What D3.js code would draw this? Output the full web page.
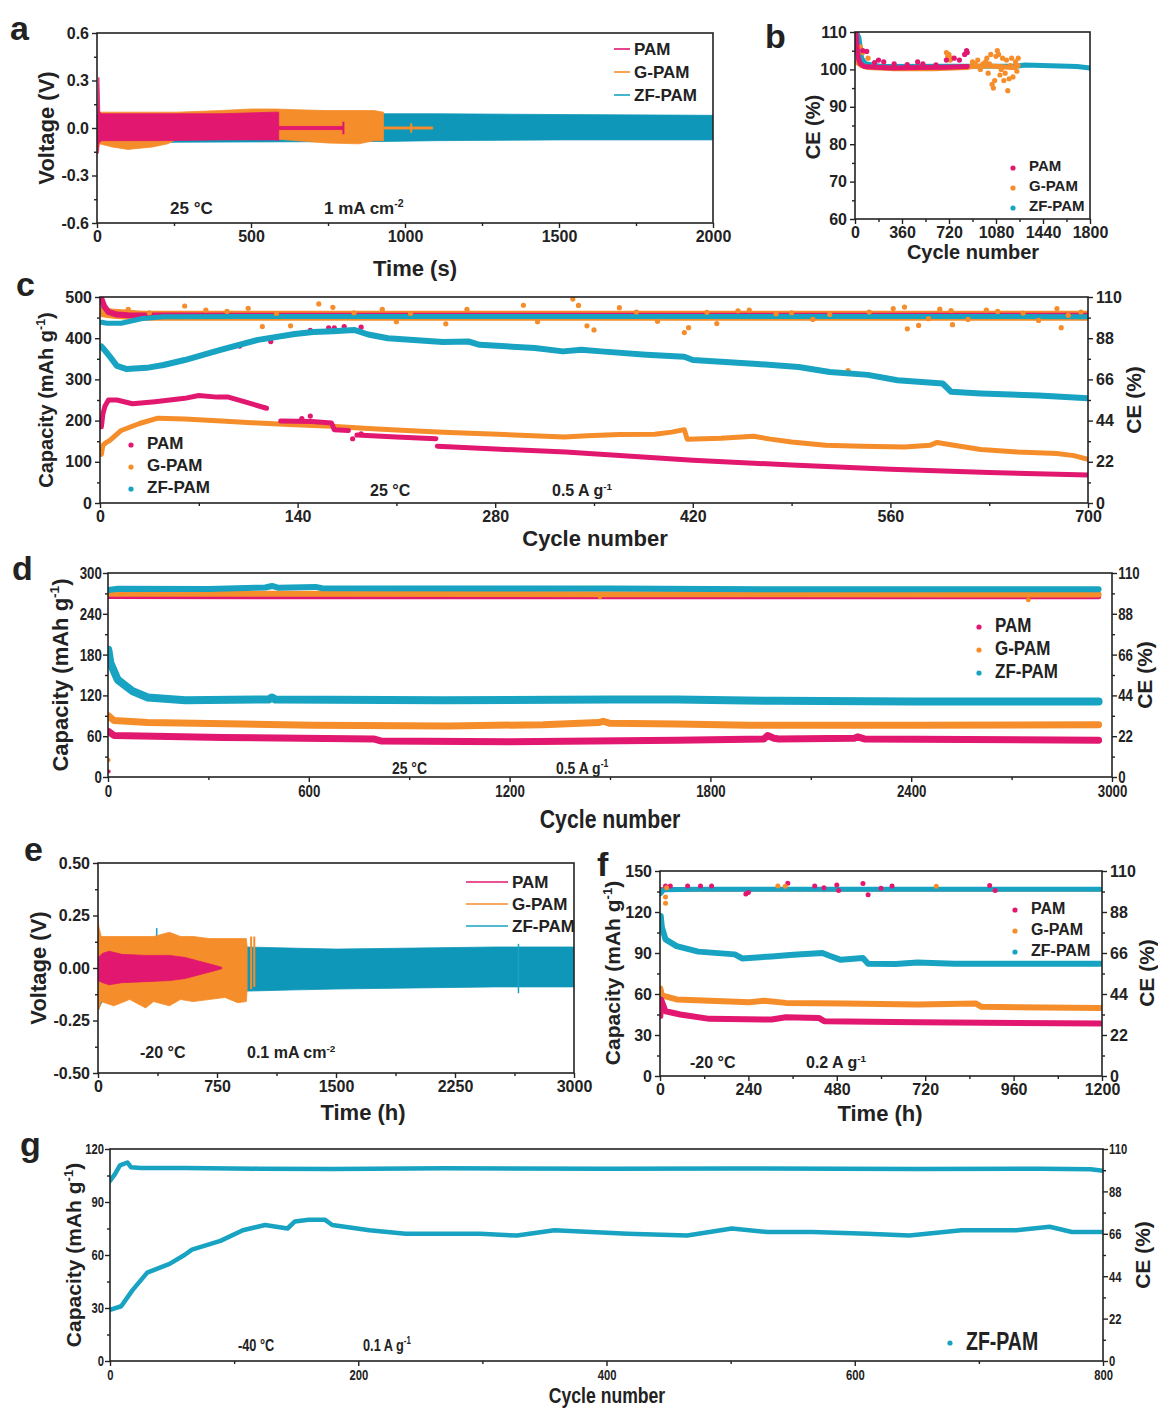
<!DOCTYPE html>
<html>
<head>
<meta charset="utf-8">
<script src="https://cdn.jsdelivr.net/npm/d3@7"></script>
<style>
  body { margin: 0; background: #fff; }
  text { font-family: "Liberation Sans", Arial, sans-serif; font-weight: bold; fill: #222; }
</style>
</head>
<body>
<svg id="fig" width="1158" height="1410"></svg>
<script>
// series names + colours
const names = ["PAM", "G-PAM", "ZF-PAM"];
const cols = ["#e2176f", "#f58d2b", "#17a3c1"];
const colZFv = "#0f97b9";

// ---- a : voltage envelopes [time s, upper V, lower V]
const zfA = [[0,0.08,-0.1],[10,0.09,-0.09],[230,0.09,-0.09],[500,0.09,-0.088],[930,0.09,-0.085],[1100,0.09,-0.08],[1500,0.085,-0.075],[2000,0.08,-0.075]];
const gA = [[0,0.0,-0.16],[4,0.09,-0.16],[8,0.1,-0.1],[50,0.1,-0.12],[100,0.1,-0.135],[180,0.1,-0.12],[230,0.1,-0.1],[260,0.1,-0.07],[400,0.11,-0.065],[500,0.12,-0.065],[580,0.12,-0.07],[650,0.115,-0.08],[750,0.11,-0.095],[850,0.11,-0.1],[900,0.11,-0.08],[930,0.1,-0.08]];
const gTailA = [[930,0.007,-0.007],[1090,0.007,-0.007]];
const gSpikeA = [[1020,0.03,-0.03]];
const pamA = [[0,0.0,-0.05],[3,0.1,-0.16],[6,0.32,-0.1],[9,0.1,-0.09],[15,0.09,-0.08],[200,0.09,-0.08],[400,0.09,-0.075],[580,0.1,-0.075],[590,0.1,-0.08]];
const pamTailA = [[590,0.01,-0.01],[800,0.01,-0.01]];
const pamSpikeA = [[800,0.04,-0.04]];

// ---- b : CE (%) vs cycle
const pamB = [[8,110],[15,106],[25,103],[40,101.5],[70,100.8],[150,100.6],[300,100.4],[500,100.5],[700,100.6],[860,100.8]];
const pamDotsB = [[60,105],[90,104.8],[150,101.8],[180,102.5],[220,102],[300,101.5],[400,101.3],[480,102],[520,101.5],[620,101.2],[700,102.5],[760,103],[800,102.5],[840,104],[855,105],[860,104.5]];
const gB = [[10,102],[50,101],[100,100.5],[300,100.2],[600,100.2],[860,100.5],[900,100.8],[1000,101],[1100,100.8],[1200,100.5],[1250,101]];
const gDotsB = [[40,106],[60,104.5],[100,103],[700,104.5],[710,103.5],[720,104],[730,102.5],[740,103],[900,102],[920,101.5],[940,102.5],[960,100],[980,101.5],[1000,102],[1010,103],[1020,99],[1030,101.5],[1040,104],[1050,96],[1060,95],[1070,97],[1080,103.5],[1090,105],[1100,104],[1110,98.5],[1120,100],[1130,103],[1140,97],[1150,99],[1160,102.5],[1170,94.3],[1180,97.5],[1190,101],[1200,103],[1210,98],[1220,100.5],[1230,102],[1240,99.5],[1250,103]];
const zfB = [[10,110],[30,108.5],[50,103],[80,101.5],[200,100.8],[1250,100.9],[1300,101.2],[1500,101],[1700,100.8],[1800,100.4]];

// ---- c : capacity (mAh/g) and CE (%) vs cycle
const pamCapC1 = [[1,185],[2,215],[3.5,235],[6,250],[12,250],[23,241],[39,246],[60,254],[70,261],[83,257],[91,257],[107,241],[118,230]];
const pamCapC2 = [[128,199],[150,198],[164,194],[166,178],[176,176]];
const pamCapC3 = [[182,165],[210,160],[238,156]];
const pamCapC4 = [[239,138],[280,131],[330,124],[420,104],[490,92],[560,82],[630,74],[700,68]];
const pamCapDotsC = [[143,205],[149,211],[179,156],[185,168]];
const gCapC = [[1,118],[2,140],[4,146],[7,152],[15,176],[28,193],[41,206],[60,204],[86,199],[112,194],[138,190],[164,186],[190,181],[217,176],[243,172],[282,167],[329,160],[345,163],[368,166],[393,167],[405,172],[414,178],[416,155],[440,157],[463,162],[475,155],[490,148],[514,140],[540,138],[570,136],[588,140],[593,147],[605,140],[624,130],[650,124],[678,120],[690,115],[700,106]];
const zfCapC = [[1,380],[3,372],[7,355],[12,333],[19,325],[33,328],[45,335],[60,347],[86,372],[112,396],[138,410],[151,415],[165,417],[180,420],[190,409],[204,400],[243,391],[261,392],[269,384],[308,376],[328,368],[341,372],[355,368],[387,360],[414,355],[420,347],[463,338],[495,330],[517,318],[544,311],[565,298],[597,290],[603,270],[624,266],[665,261],[700,254]];
const pamCeC = [[1,109],[3,105],[6,102],[12,100.6],[20,100.2],[100,100],[300,100],[500,100],[700,100]];
const pamCeDotsC = [[99,83.8],[121,86.2],[149,92.2],[162,93.5],[166,93.5],[173,94.2],[185,93.9]];
const gCeC = [[1,102],[10,101],[30,100],[700,100]];
const gCeDotsC = [[20,103.4],[35,101.6],[60,105.2],[75,103],[90,102.3],[105,104],[115,94.2],[125,101.2],[135,94.6],[155,106.3],[165,104.5],[180,101.6],[200,103.4],[210,96.8],[220,101.2],[245,95.7],[260,103.4],[300,105.6],[310,96.8],[335,108.9],[339,105.5],[345,94.6],[350,92.4],[368,104.3],[380,102],[395,97],[414,91],[417,93.6],[430,101.8],[437,95.8],[452,102.6],[460,103],[479,101],[490,101.6],[505,98],[517,100.7],[530,70.7],[545,102],[562,103.8],[570,104.6],[572,93],[580,94.8],[587,98.4],[595,103.5],[603,102.8],[604,95.2],[615,98],[628,103],[636,102.3],[654,101.4],[665,97.5],[678,103.8],[681,93.6],[686,100.2],[695,102]];
const zfCeC = [[1,96.5],[5,96],[15,96],[30,98.5],[45,99.5],[100,99.6],[300,99.6],[500,99.6],[700,99.5]];

// ---- d : capacity and CE vs cycle (3000)
const zfCapD = [[1,187],[7,168],[29,143],[74,126],[119,117],[231,113],[480,114],[490,117],[500,114],[1000,113],[1500,114],[1700,114],[2000,112],[2400,111],[2960,111]];
const gCapD = [[1,90],[18,83],[119,80],[400,78],[613,76],[1017,75],[1300,77],[1466,80],[1480,82],[1500,79],[1700,78],[1915,76],[2400,76],[2960,77]];
const pamCapD = [[1,67],[18,61],[343,58],[793,56],[815,53],[1200,52],[1700,54],[1960,56],[1971,61],[1990,57],[2005,56],[2230,57],[2240,59],[2260,56],[2960,54]];
const capStartDotsD = [[2,8,0],[2,25,1]];
const zfCeD = [[1,100.8],[30,101.5],[300,101.4],[470,102.2],[490,103],[510,102],[620,102.5],[640,101.8],[1500,101.6],[2000,101.2],[2960,101.2]];
const gCeD = [[1,98.8],[500,98.8],[1500,98.6],[2960,98.4]];
const gCeDotsD = [[1470,97.2],[2750,95.5]];
const pamCeD = [[1,97.3],[1000,97.2],[2960,97.2]];

// ---- e : voltage envelopes [time h, upper V, lower V]
const zfE = [[0,0.05,-0.2],[20,0.1,-0.17],[50,0.1,-0.13],[100,0.1,-0.12],[200,0.1,-0.11],[940,0.1,-0.11],[1200,0.095,-0.105],[1500,0.09,-0.1],[2000,0.095,-0.095],[2500,0.1,-0.09],[3000,0.1,-0.09]];
const zfSpikesE = [[370,0.19,0.1],[2650,0.115,-0.12]];
const gE = [[0,0.25,-0.2],[5,0.2,-0.2],[20,0.15,-0.16],[60,0.15,-0.17],[100,0.15,-0.18],[200,0.15,-0.15],[300,0.15,-0.19],[350,0.15,-0.16],[450,0.17,-0.18],[520,0.15,-0.15],[600,0.15,-0.16],[700,0.14,-0.15],[800,0.14,-0.14],[880,0.14,-0.165],[935,0.14,-0.16],[940,0.1,-0.1]];
const gSpikesE = [[965,0.15,-0.1],[985,0.15,-0.09]];
const pamE = [[0,0.05,-0.06],[30,0.07,-0.07],[70,0.08,-0.08],[150,0.065,-0.07],[300,0.06,-0.065],[450,0.06,-0.06],[550,0.05,-0.05],[650,0.03,-0.03],[740,0.012,-0.012],[780,0.003,-0.003]];

// ---- f : capacity and CE vs time (h)
const zfCapF = [[2,117],[5,109],[15,100],[45,95],[104,91],[203,89],[223,86],[303,87.5],[362,88.7],[441,90],[460,88],[491,85],[551,86.3],[565,82.2],[640,82],[699,83.1],[799,82.2],[898,82.2],[1195,82.2]];
const gCapF = [[1,64],[5,59],[45,56],[243,54],[283,55],[342,53.5],[501,53],[699,52.3],[858,53],[873,50.6],[1195,49.8]];
const pamCapF = [[1,44],[3,56],[15,47.4],[55,45],[134,41.8],[303,41.3],[342,43],[431,42.5],[446,40.1],[699,39.4],[1195,38.4]];
const pamCeF = [[2,100.2],[1195,100.2]];
const gCeF = [[2,100],[1195,100.1]];
const zfCeF = [[2,98],[10,100],[100,100.2],[1195,100.2]];
const pamCeDotsF = [[15,102],[28,102],[75,102],[110,102],[140,102],[233,97.6],[240,98.5],[347,103.4],[420,102],[445,101],[480,102.5],[485,99.5],[551,103.3],[565,97.2],[600,100.8],[630,102],[895,102.2],[910,99.5]];
const gCeDotsF = [[15,92.7],[15,96],[18,101],[320,102],[340,101.8],[750,101.8]];

// ---- g : ZF-PAM only, capacity and CE vs cycle
const zfCapG = [[0,29],[9,31],[18,40],[30,50],[48,55],[60,60],[66,63],[89,68],[107,74],[125,77],[143,75],[149,79],[160,80],[173,80],[179,77],[209,74],[238,72],[298,72],[328,71],[358,74],[417,72],[465,71],[501,75],[530,73],[566,73],[610,72],[644,71],[686,74],[730,74],[757,76],[775,73],[799,73]];
const zfCeG = [[0,93.5],[4,97],[8,101.5],[14,103],[17,100.5],[25,100.2],[60,100.2],[120,99.8],[180,99.6],[270,100],[400,99.7],[500,99.9],[650,99.6],[750,99.8],[790,99.5],[800,98.7]];

const svg = d3.select("#fig");
svg.append("rect").attr("width", 1158).attr("height", 1410).attr("fill", "#fff");
const FONT = '"Liberation Sans", Arial, sans-serif';

let clipN = 0;
function makePanel(o) {
  const x = d3.scaleLinear().domain(o.xd).range([o.l, o.r]);
  const y = d3.scaleLinear().domain(o.yd).range([o.b, o.t]);
  const y2 = o.y2d ? d3.scaleLinear().domain(o.y2d).range([o.b, o.t]) : null;
  const id = "clip" + (clipN++);
  svg.append("clipPath").attr("id", id).append("rect")
    .attr("x", o.l).attr("y", o.t).attr("width", o.r - o.l).attr("height", o.b - o.t);
  const plot = svg.append("g").attr("clip-path", `url(#${id})`);
  return { o, x, y, y2, plot };
}

function rich(t, parts, fs) {
  parts.forEach(([s, sup], i) => {
    const ts = t.append("tspan").text(s);
    if (sup) ts.attr("dy", -fs * 0.4).style("font-size", fs * 0.62 + "px");
    else if (i > 0 && parts[i - 1][1]) ts.attr("dy", fs * 0.4);
  });
  return t;
}

// opts: anchor, rot (rotate -90), sx (horizontal squeeze, for the narrow lettering)
function text(x, y, parts, fs, opts) {
  opts = opts || {};
  const sx = opts.sx || 1;
  const t = svg.append("text").attr("x", 0).attr("y", 0)
    .style("font-size", fs + "px")
    .attr("text-anchor", opts.anchor || "start")
    .attr("transform", `translate(${x},${y})` + (opts.rot ? " rotate(-90)" : "") + (sx !== 1 ? ` scale(${sx},1)` : ""));
  if (opts.rot) t.attr("dy", "0.35em");
  return rich(t, typeof parts === "string" ? [[parts, 0]] : parts, fs);
}

function finishPanel(p) {
  const o = p.o;
  const g = svg.append("g");
  const mids = v => v.slice(1).map((d, i) => (d + v[i]) / 2);
  const xf = o.xf || (d => d);
  const yf = o.yf || (d => d);
  g.append("g").attr("transform", `translate(0,${o.b})`)
    .call(d3.axisBottom(p.x).tickValues(o.xt).tickSize(5).tickPadding(3).tickFormat(xf));
  g.append("g").attr("transform", `translate(0,${o.b})`)
    .call(d3.axisBottom(p.x).tickValues(mids(o.xt)).tickSize(3).tickFormat(""));
  g.append("g").attr("transform", `translate(${o.l},0)`)
    .call(d3.axisLeft(p.y).tickValues(o.yt).tickSize(5).tickPadding(3).tickFormat(yf));
  g.append("g").attr("transform", `translate(${o.l},0)`)
    .call(d3.axisLeft(p.y).tickValues(mids(o.yt)).tickSize(3).tickFormat(""));
  if (p.y2) {
    g.append("g").attr("transform", `translate(${o.r},0)`)
      .call(d3.axisRight(p.y2).tickValues(o.y2t).tickSize(5).tickPadding(3));
    g.append("g").attr("transform", `translate(${o.r},0)`)
      .call(d3.axisRight(p.y2).tickValues(mids(o.y2t)).tickSize(3).tickFormat(""));
  }
  g.selectAll(".domain").remove();
  g.selectAll(".tick line").attr("stroke", "#222").attr("stroke-width", 1.4);
  const tt = g.selectAll(".tick text").attr("fill", "#222")
    .style("font-size", (o.fs || 16) + "px").style("font-weight", "bold")
    .style("font-family", FONT);
  if (o.sx) tt.attr("transform", `scale(${o.sx},1)`);
  g.append("rect").attr("x", o.l).attr("y", o.t).attr("width", o.r - o.l).attr("height", o.b - o.t)
    .attr("fill", "none").attr("stroke", "#222").attr("stroke-width", 1.6);
}

function band(p, data, color) {
  p.plot.append("path").datum(data)
    .attr("d", d3.area().x(d => p.x(d[0])).y0(d => p.y(d[2])).y1(d => p.y(d[1])))
    .attr("fill", color).attr("stroke", color).attr("stroke-width", 0.8);
}
function spikes(p, data, color, w) {
  p.plot.selectAll(null).data(data).join("line")
    .attr("x1", d => p.x(d[0])).attr("x2", d => p.x(d[0]))
    .attr("y1", d => p.y(d[1])).attr("y2", d => p.y(d[2]))
    .attr("stroke", color).attr("stroke-width", w || 1.5);
}
function trace(p, data, color, w, ys) {
  const y = ys || p.y;
  p.plot.append("path").datum(data)
    .attr("d", d3.line().x(d => p.x(d[0])).y(d => y(d[1])))
    .attr("fill", "none").attr("stroke", color).attr("stroke-width", w)
    .attr("stroke-linecap", "round").attr("stroke-linejoin", "round");
}
function dots(p, data, color, r, ys) {
  const y = ys || p.y;
  p.plot.selectAll(null).data(data).join("circle")
    .attr("cx", d => p.x(d[0])).attr("cy", d => y(d[1])).attr("r", r)
    .attr("fill", color);
}
function legend(x, y0, dy, kind, fs, idx, len, sx) {
  (idx || [0, 1, 2]).forEach((k, i) => {
    const y = y0 + i * dy;
    if (kind === "line") {
      svg.append("line").attr("x1", x - len).attr("x2", x).attr("y1", y).attr("y2", y)
        .attr("stroke", cols[k]).attr("stroke-width", 1.6);
    } else {
      svg.append("circle").attr("cx", x - 12).attr("cy", y + 2).attr("r", 2.6).attr("fill", cols[k]);
    }
    text(x + 4, y, names[k], fs, { sx }).attr("dy", "0.35em");
  });
}

// ================= a
const pa = makePanel({ l: 97, r: 713, t: 33, b: 223, xd: [0, 2000], yd: [-0.6, 0.6],
  xt: [0, 500, 1000, 1500, 2000], yt: [-0.6, -0.3, 0, 0.3, 0.6], yf: d => d.toFixed(1) });
band(pa, zfA, colZFv);
band(pa, gA, cols[1]);
band(pa, gTailA, cols[1]);
spikes(pa, gSpikeA, cols[1], 2);
band(pa, pamA, cols[0]);
band(pa, pamTailA, cols[0]);
spikes(pa, pamSpikeA, cols[0], 2);
finishPanel(pa);
text(10, 40, "a", 34);
text(415, 276, "Time (s)", 22, { anchor: "middle" });
text(46, 128, "Voltage (V)", 22, { anchor: "middle", rot: true });
legend(630, 49, 23, "line", 17, null, 16);
text(170, 214, "25 °C", 17);
text(324, 214, [["1 mA cm", 0], ["-2", 1]], 17);

// ================= b
const pb = makePanel({ l: 855, r: 1090, t: 32, b: 219, xd: [0, 1800], yd: [60, 110],
  xt: [0, 360, 720, 1080, 1440, 1800], yt: [60, 70, 80, 90, 100, 110] });
trace(pb, zfB, cols[2], 5);
trace(pb, gB, cols[1], 5);
dots(pb, gDotsB, cols[1], 2.6);
trace(pb, pamB, cols[0], 5);
dots(pb, pamDotsB, cols[0], 2.6);
finishPanel(pb);
text(765, 48, "b", 34);
text(973, 259, "Cycle number", 20, { anchor: "middle" });
text(813, 127, "CE (%)", 20, { anchor: "middle", rot: true });
legend(1025, 166, 20, "dot", 15);

// ================= c
const pc = makePanel({ l: 100, r: 1088, t: 297, b: 503, xd: [0, 700], yd: [0, 500], y2d: [0, 110],
  xt: [0, 140, 280, 420, 560, 700], yt: [0, 100, 200, 300, 400, 500], y2t: [0, 22, 44, 66, 88, 110] });
trace(pc, gCeC, cols[1], 10, pc.y2);
trace(pc, pamCeC, cols[0], 6, pc.y2);
trace(pc, zfCeC, cols[2], 5, pc.y2);
dots(pc, gCeDotsC, cols[1], 2.6, pc.y2);
dots(pc, pamCeDotsC, cols[0], 2.6, pc.y2);
trace(pc, zfCapC, cols[2], 6);
trace(pc, gCapC, cols[1], 5);
[pamCapC1, pamCapC2, pamCapC3, pamCapC4].forEach(s => trace(pc, s, cols[0], 5));
dots(pc, pamCapDotsC, cols[0], 2.6);
finishPanel(pc);
text(16, 296, "c", 34);
text(595, 546, "Cycle number", 22, { anchor: "middle" });
text(46, 400, [["Capacity (mAh g", 0], ["-1", 1], [")", 0]], 20, { anchor: "middle", rot: true });
text(1134, 400, "CE (%)", 21, { anchor: "middle", rot: true });
legend(143, 443, 22, "dot", 17);
text(370, 496, "25 °C", 16);
text(552, 496, [["0.5 A g", 0], ["-1", 1]], 16);

// ================= d
const pd = makePanel({ l: 108, r: 1112, t: 573, b: 777, xd: [0, 3000], yd: [0, 300], y2d: [0, 110],
  xt: [0, 600, 1200, 1800, 2400, 3000], yt: [0, 60, 120, 180, 240, 300], y2t: [0, 22, 44, 66, 88, 110],
  fs: 17, sx: 0.78 });
trace(pd, pamCeD, cols[0], 5, pd.y2);
trace(pd, gCeD, cols[1], 6, pd.y2);
trace(pd, zfCeD, cols[2], 6, pd.y2);
dots(pd, gCeDotsD, cols[1], 2.4, pd.y2);
trace(pd, zfCapD, cols[2], 8);
trace(pd, gCapD, cols[1], 7);
trace(pd, pamCapD, cols[0], 7);
dots(pd, capStartDotsD, d => cols[d[2]], 2);
finishPanel(pd);
text(12, 580, "d", 34);
text(610, 828, "Cycle number", 25, { anchor: "middle", sx: 0.85 });
text(60, 675, [["Capacity (mAh g", 0], ["-1", 1], [")", 0]], 22, { anchor: "middle", rot: true });
text(1145, 675, "CE (%)", 21, { anchor: "middle", rot: true });
legend(991, 625, 23, "dot", 20, null, 0, 0.85);
text(392, 774, "25 °C", 17, { sx: 0.82 });
text(556, 774, [["0.5 A g", 0], ["-1", 1]], 17, { sx: 0.82 });

// ================= e
const pe = makePanel({ l: 98, r: 574, t: 863, b: 1073, xd: [0, 3000], yd: [-0.5, 0.5],
  xt: [0, 750, 1500, 2250, 3000], yt: [-0.5, -0.25, 0, 0.25, 0.5], yf: d => d.toFixed(2) });
band(pe, zfE, colZFv);
spikes(pe, zfSpikesE, cols[2], 1.5);
band(pe, gE, cols[1]);
spikes(pe, gSpikesE, cols[1], 2);
band(pe, pamE, cols[0]);
finishPanel(pe);
text(24, 861, "e", 34);
text(363, 1120, "Time (h)", 22, { anchor: "middle" });
text(38, 968, "Voltage (V)", 22, { anchor: "middle", rot: true });
legend(508, 882, 22, "line", 17, null, 42);
text(140, 1058, "-20 °C", 16);
text(247, 1058, [["0.1 mA cm", 0], ["-2", 1]], 16);

// ================= f
const pf = makePanel({ l: 660, r: 1102, t: 871, b: 1076, xd: [0, 1200], yd: [0, 150], y2d: [0, 110],
  xt: [0, 240, 480, 720, 960, 1200], yt: [0, 30, 60, 90, 120, 150], y2t: [0, 22, 44, 66, 88, 110] });
trace(pf, gCeF, cols[1], 4, pf.y2);
trace(pf, pamCeF, cols[0], 4, pf.y2);
trace(pf, zfCeF, cols[2], 5, pf.y2);
dots(pf, pamCeDotsF, cols[0], 2.5, pf.y2);
dots(pf, gCeDotsF, cols[1], 2.5, pf.y2);
trace(pf, zfCapF, cols[2], 6);
trace(pf, gCapF, cols[1], 6);
trace(pf, pamCapF, cols[0], 6);
finishPanel(pf);
text(597, 876, "f", 34);
text(880, 1121, "Time (h)", 22, { anchor: "middle" });
text(613, 973, [["Capacity (mAh g", 0], ["-1", 1], [")", 0]], 21, { anchor: "middle", rot: true });
text(1147, 973, "CE (%)", 21, { anchor: "middle", rot: true });
legend(1027, 908, 21, "dot", 16);
text(690, 1068, "-20 °C", 16);
text(806, 1068, [["0.2 A g", 0], ["-1", 1]], 16);

// ================= g
const pg = makePanel({ l: 110, r: 1103, t: 1149, b: 1361, xd: [0, 800], yd: [0, 120], y2d: [0, 110],
  xt: [0, 200, 400, 600, 800], yt: [0, 30, 60, 90, 120], y2t: [0, 22, 44, 66, 88, 110], fs: 15, sx: 0.75 });
trace(pg, zfCeG, cols[2], 4.5, pg.y2);
trace(pg, zfCapG, cols[2], 4.5);
finishPanel(pg);
text(20, 1156, "g", 34);
text(607, 1403, "Cycle number", 22, { anchor: "middle", sx: 0.8 });
text(74, 1255, [["Capacity (mAh g", 0], ["-1", 1], [")", 0]], 21, { anchor: "middle", rot: true });
text(1143, 1255, "CE (%)", 21, { anchor: "middle", rot: true });
legend(962, 1341, 22, "dot", 25, [2], 0, 0.78);
text(238, 1351, "-40 °C", 17, { sx: 0.75 });
text(363, 1351, [["0.1 A g", 0], ["-1", 1]], 17, { sx: 0.75 });
</script>
</body>
</html>
